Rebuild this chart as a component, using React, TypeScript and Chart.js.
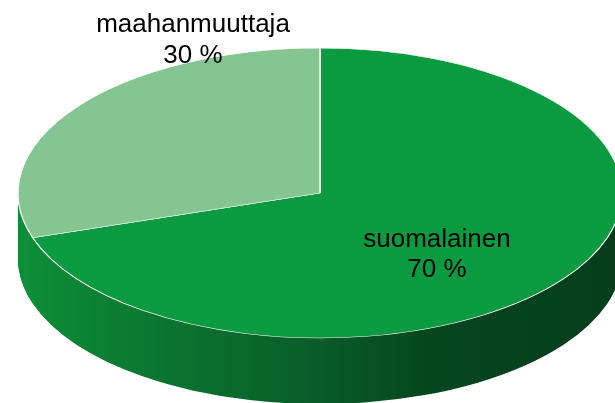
import React, { useEffect, useRef } from 'react';
import { Chart, registerables, ArcElement } from 'chart.js';

Chart.register(...registerables);

// ---- data ----
const categories = ['suomalainen', 'maahanmuuttaja'];
const shares = [70, 30];
const shareLabels = ['70 %', '30 %'];

// ---- styles / layout ----
const topColors = ['#0a9a40', '#84c592'];
const sideStops: [number, string][] = [
  [0, '#0d8f37'],
  [0.15, '#0b7e32'],
  [0.3, '#0a6f2e'],
  [0.5, '#085c27'],
  [0.68, '#05461f'],
  [1, '#053d1b'],
];
const W = 615;
const H = 403;
const E = { cx: 320, cy: 193, rx: 302, ry: 145, depth: 66 };
// label anchors: x centre, baseline of first line (screen px), line gap
const labelAnchors = [
  { x: 437, y: 247, gap: 30 },
  { x: 193, y: 32, gap: 31 },
];
const FONT = '26px "Liberation Sans", Arial, sans-serif';

const pie3d = {
  id: 'pie3d',
  beforeDatasetsDraw(chart: any) {
    const meta = chart.getDatasetMeta(0);
    const arcs = meta.data as any[];
    const ctx: CanvasRenderingContext2D = chart.ctx;
    ctx.save();
    if (!arcs.length) return;
    const a0 = arcs[0];
    const px = a0.x, py = a0.y, r = a0.outerRadius;
    const sx = E.rx / r, sy = E.ry / r;
    const toUser = (X: number) => px + (X - E.cx) / sx;
    const grad = ctx.createLinearGradient(toUser(E.cx - E.rx), 0, toUser(E.cx + E.rx), 0);
    sideStops.forEach(([o, c]) => grad.addColorStop(o, c));
    for (let d = E.depth; d >= 1; d--) {
      ctx.save();
      ctx.translate(E.cx, E.cy + d);
      ctx.scale(sx, sy);
      ctx.translate(-px, -py);
      arcs.forEach((arc) => {
        const side = new (ArcElement as any)({
          x: arc.x,
          y: arc.y,
          startAngle: arc.startAngle,
          endAngle: arc.endAngle,
          circumference: arc.circumference,
          innerRadius: arc.innerRadius,
          outerRadius: arc.outerRadius,
          options: { ...arc.options, backgroundColor: grad, borderWidth: 0 },
        });
        side.draw(ctx);
      });
      ctx.restore();
    }
    ctx.translate(E.cx, E.cy);
    ctx.scale(sx, sy);
    ctx.translate(-px, -py);
  },
  afterDatasetsDraw(chart: any) {
    const ctx: CanvasRenderingContext2D = chart.ctx;
    ctx.restore();
    ctx.save();
    ctx.font = FONT;
    ctx.fillStyle = '#000000';
    ctx.textAlign = 'center';
    ctx.textBaseline = 'alphabetic';
    categories.forEach((c, i) => {
      const a = labelAnchors[i];
      ctx.fillText(c, a.x, a.y);
      ctx.fillText(shareLabels[i], a.x, a.y + a.gap);
    });
    ctx.restore();
  },
};

export default function App() {
  const ref = useRef<HTMLCanvasElement | null>(null);
  useEffect(() => {
    document.body.style.margin = '0';
    if (!ref.current) return;
    const chart = new Chart(ref.current, {
      type: 'pie',
      data: {
        labels: categories,
        datasets: [
          {
            data: shares,
            backgroundColor: topColors,
            borderColor: '#ffffff',
            borderWidth: 0.9,
          },
        ],
      },
      options: {
        responsive: false,
        maintainAspectRatio: false,
        animation: false,
        events: [],
        layout: { padding: 0 },
        plugins: {
          legend: { display: false },
          tooltip: { enabled: false },
          title: { display: false },
        },
      },
      plugins: [pie3d],
    });
    return () => chart.destroy();
  }, []);
  return (
    <div style={{ position: 'absolute', left: 0, top: 0, width: W, height: H, background: '#ffffff' }}>
      <canvas ref={ref} width={W} height={H} style={{ display: 'block' }} />
    </div>
  );
}
